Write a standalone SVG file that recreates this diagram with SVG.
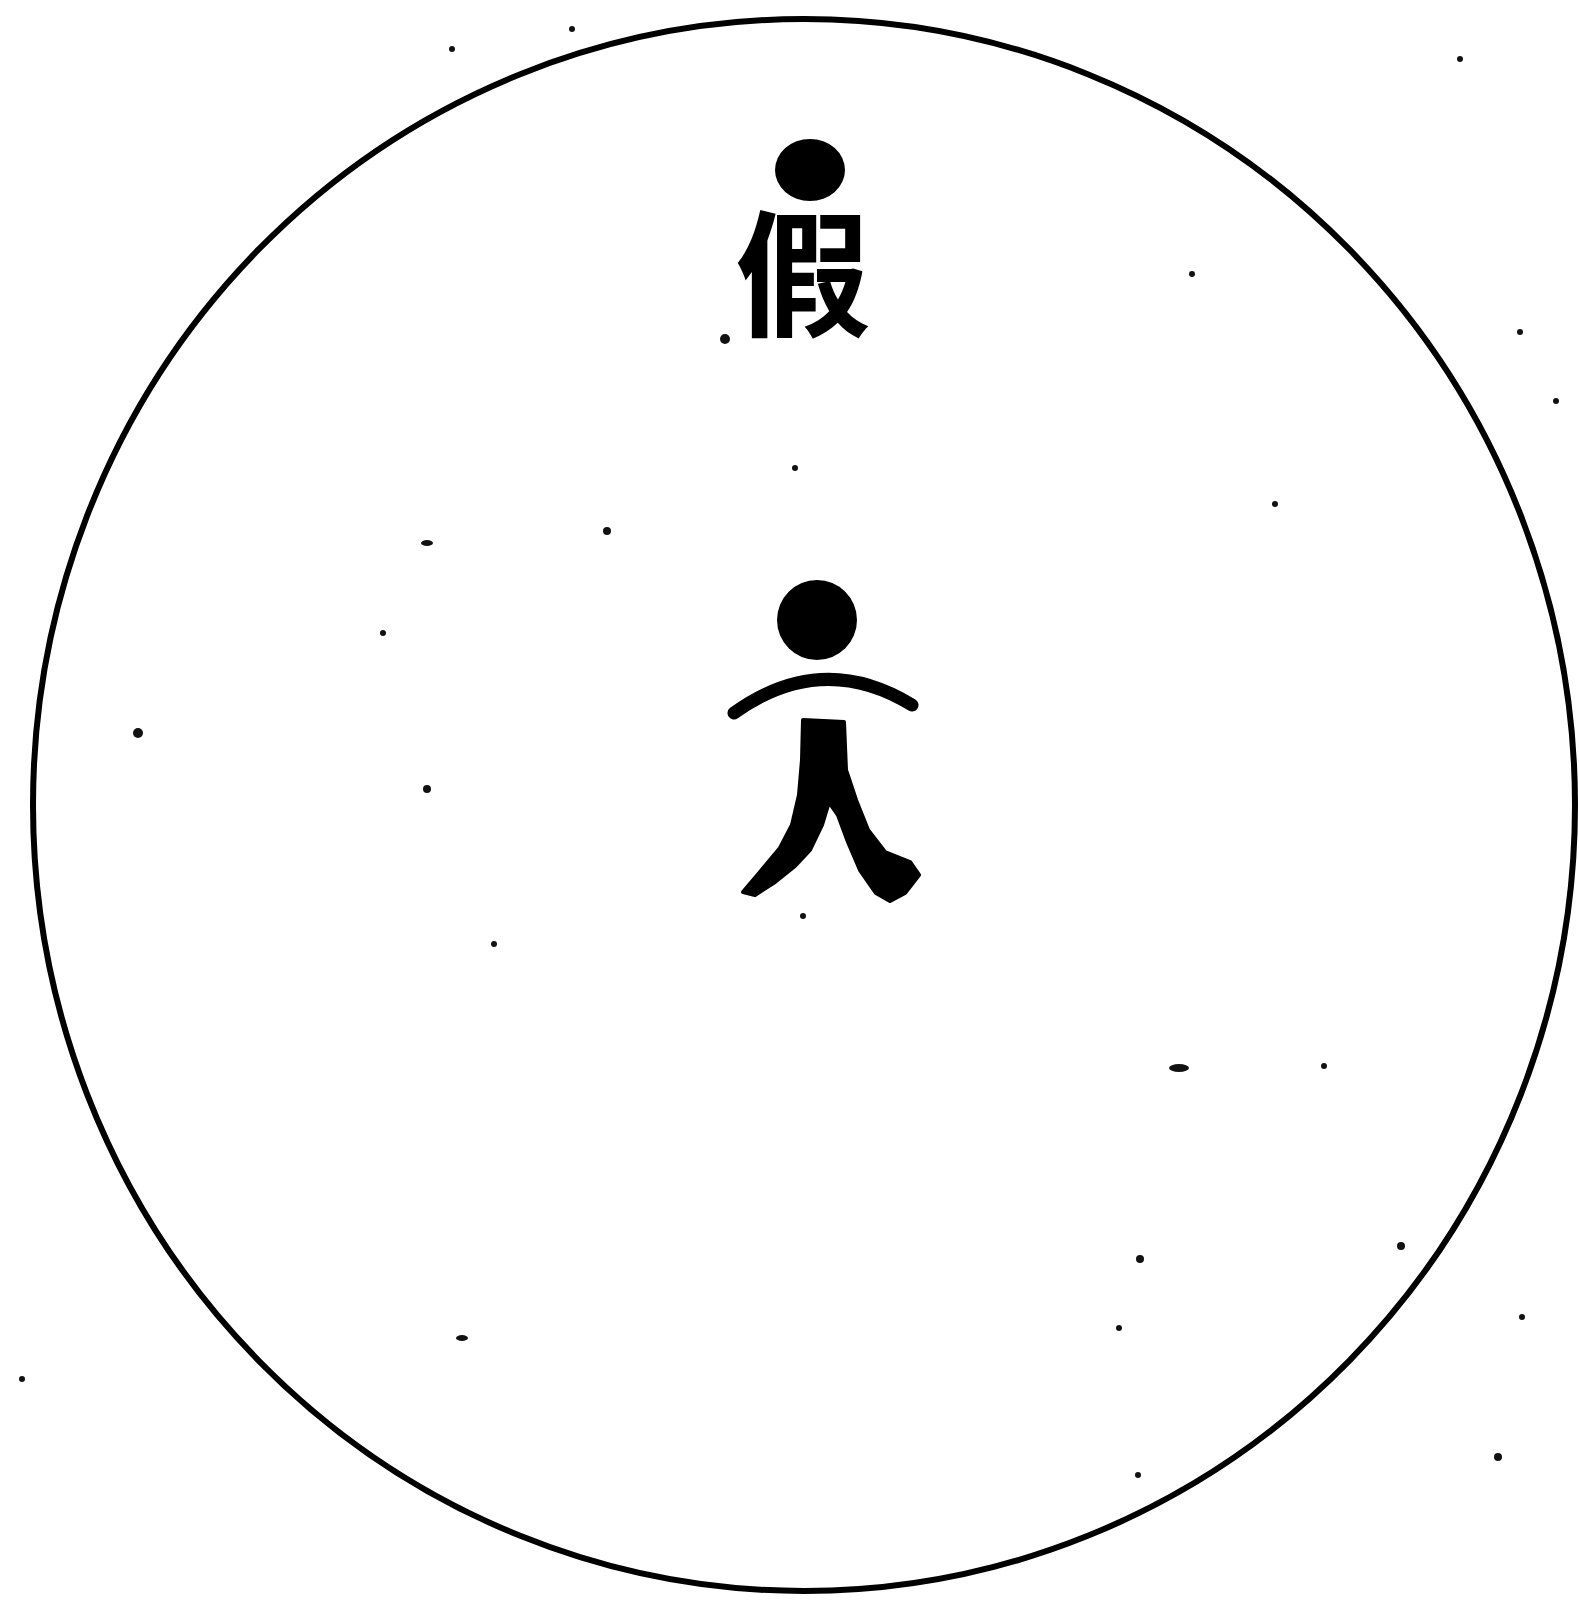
<svg xmlns="http://www.w3.org/2000/svg" width="1579" height="1601" viewBox="0 0 1579 1601">
<style>
.ink{fill:#000}
.soft{fill:#000;stroke:#000;stroke-width:4;stroke-linejoin:round}
.outline{fill:none;stroke:#000;stroke-width:6}
.label{font-family:"Noto Sans CJK SC","Noto Sans CJK TC",sans-serif;font-weight:700;font-size:136px;fill:#000}
.speck{fill:#111}
</style>
<rect width="1579" height="1601" fill="#fff"/>
<g id="outer-circle">
<ellipse class="outline" cx="804" cy="805" rx="771" ry="786"/>
</g>
<g id="jia">
<ellipse class="ink" cx="810" cy="170" rx="35" ry="31"/>
<text class="label" x="803" y="326" text-anchor="middle">假</text>
</g>
<g id="ren">
<circle class="ink" cx="817" cy="620" r="40"/>
<path d="M 734 713 Q 822 650 912 705" fill="none" stroke="#000" stroke-width="13" stroke-linecap="round"/>
<path class="soft" d="M 803 720 L 844 722 L 846 770 L 856 800 L 868 830 L 885 852 L 910 862 L 919 875 L 905 893 L 890 901 L 876 893 L 860 870 L 848 842 L 838 815 L 829 802 L 822 825 L 810 850 L 795 866 L 775 882 L 755 895 L 743 892 L 760 872 L 780 848 L 792 825 L 799 795 L 802 760 Z"/>
</g>
<g id="specks">
<circle class="speck" cx="138" cy="733" r="5"/>
<circle class="speck" cx="427" cy="789" r="4"/>
<circle class="speck" cx="607" cy="531" r="4"/>
<circle class="speck" cx="795" cy="468" r="3"/>
<ellipse class="speck" cx="1179" cy="1068" rx="10" ry="4"/>
<circle class="speck" cx="1324" cy="1066" r="3"/>
<circle class="speck" cx="1140" cy="1259" r="4"/>
<circle class="speck" cx="1401" cy="1246" r="4"/>
<circle class="speck" cx="1119" cy="1328" r="3"/>
<circle class="speck" cx="1520" cy="332" r="3"/>
<circle class="speck" cx="1556" cy="401" r="3"/>
<circle class="speck" cx="1275" cy="504" r="3"/>
<circle class="speck" cx="1192" cy="274" r="3"/>
<ellipse class="speck" cx="462" cy="1338" rx="6" ry="3"/>
<circle class="speck" cx="1138" cy="1475" r="3"/>
<circle class="speck" cx="1498" cy="1457" r="4"/>
<circle class="speck" cx="1522" cy="1317" r="3"/>
<circle class="speck" cx="22" cy="1379" r="3"/>
<circle class="speck" cx="803" cy="916" r="3"/>
<circle class="speck" cx="572" cy="29" r="3"/>
<circle class="speck" cx="452" cy="49" r="3"/>
<circle class="speck" cx="494" cy="944" r="3"/>
<circle class="speck" cx="383" cy="633" r="3"/>
<ellipse class="speck" cx="427" cy="543" rx="6" ry="3"/>
<circle class="speck" cx="725" cy="339" r="5"/>
<circle class="speck" cx="1460" cy="59" r="3"/>
</g>
</svg>
